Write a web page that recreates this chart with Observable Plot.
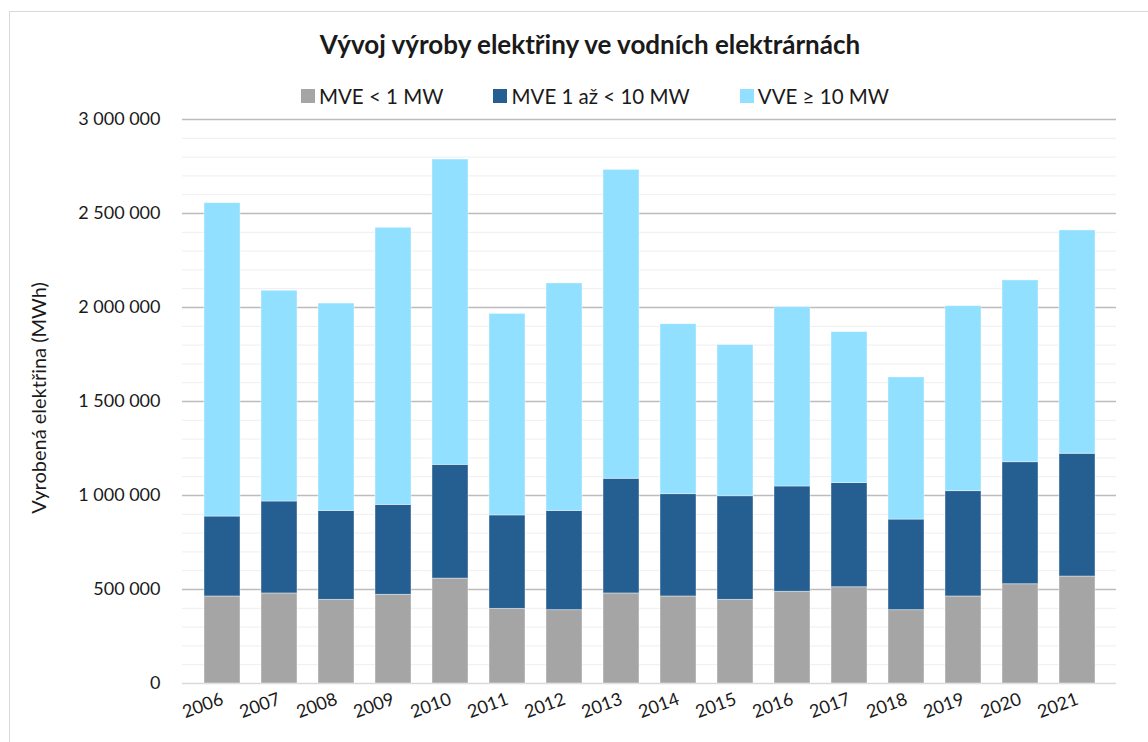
<!DOCTYPE html>
<html>
<head>
<meta charset="utf-8">
<script src="https://cdn.jsdelivr.net/npm/d3@7"></script>
<script src="https://cdn.jsdelivr.net/npm/@observablehq/plot@0.6"></script>
<style>
  html, body { margin: 0; padding: 0; background: #fff; }
  #wrap { position: relative; width: 1148px; height: 742px; overflow: hidden; font-family: Lato, "Open Sans", sans-serif; color: #1a1a1a; }
  #frame { position: absolute; left: 9px; top: 11px; width: 1140px; height: 740px; border: 1px solid #d9d9d9; box-sizing: border-box; }
  #title { position: absolute; left: 0; top: 28px; width: 1180px; text-align: center; font-weight: bold; font-size: 26px; }
  #legend { position: absolute; left: 0; top: 84px; width: 1190px; display: flex; justify-content: center; gap: 50px; font-size: 20.5px; }
  #legend span.item { display: inline-flex; align-items: center; }
  #legend span.sw { display: inline-block; width: 14px; height: 14px; margin-right: 4px; }
  #ylabel { position: absolute; left: 38px; top: 398px; transform: translate(-50%, -50%) rotate(-90deg); white-space: nowrap; font-size: 20px; }
  #chart { position: absolute; left: 0; top: 105px; }
</style>
</head>
<body>
<div id="wrap">
  <div id="frame"></div>
  <div id="title">Vývoj výroby elektřiny ve vodních elektrárnách</div>
  <div id="legend"></div>
  <div id="ylabel">Vyrobená elektřina (MWh)</div>
  <div id="chart"></div>
</div>
<script>
const years = ["2006","2007","2008","2009","2010","2011","2012","2013","2014","2015","2016","2017","2018","2019","2020","2021"];
const seriesNames = ["MVE < 1 MW", "MVE 1 až < 10 MW", "VVE ≥ 10 MW"];
const seriesColors = ["#a5a5a5", "#255e91", "#91e0ff"];
const mveSmall = [463000,479000,445000,472000,558000,397000,390000,479000,463000,445000,488000,512000,390000,463000,528000,569000];
const mveMid   = [425000,489000,473000,478000,605000,497000,528000,610000,544000,551000,560000,554000,482000,560000,649000,653000];
const vve      = [1667000,1121000,1103000,1474000,1624000,1072000,1210000,1643000,904000,804000,954000,803000,756000,984000,967000,1188000];
const yTicks = [0, 500000, 1000000, 1500000, 2000000, 2500000, 3000000];

const seriesValues = [mveSmall, mveMid, vve];
const rows = [];
seriesValues.forEach((vals, si) => {
  years.forEach((y, i) => rows.push({year: y, series: seriesNames[si], value: vals[i]}));
});

const legend = document.getElementById("legend");
seriesNames.forEach((n, i) => {
  const it = document.createElement("span");
  it.className = "item";
  const sw = document.createElement("span");
  sw.className = "sw";
  sw.style.background = seriesColors[i];
  it.appendChild(sw);
  it.appendChild(document.createTextNode(n));
  legend.appendChild(it);
});

const fmt = d => d3.format(",")(d).replace(/,/g, "\u00a0");
const minor = d3.range(0, 3000001, 100000).filter(v => v % 500000 !== 0);

const plot = Plot.plot({
  width: 1148,
  height: 637,
  marginTop: 14,
  marginBottom: 59,
  marginLeft: 182,
  marginRight: 32,
  style: { fontFamily: "Lato, 'Open Sans', sans-serif", fontSize: "18px", color: "#1a1a1a", background: "transparent" },
  x: { domain: years, padding: 0.37, label: null },
  y: { domain: [0, 3000000], label: null },
  color: { domain: seriesNames, range: seriesColors },
  marks: [
    Plot.ruleY(minor, { stroke: "#eeeeee", strokeWidth: 1 }),
    Plot.ruleY(yTicks.filter(v => v > 0), { stroke: "#bcbcbc", strokeWidth: 1.3 }),
    Plot.ruleY([0], { stroke: "#d9d9d9", strokeWidth: 1.3 }),
    Plot.barY(rows, Plot.stackY({ order: seriesNames }, { x: "year", y: "value", fill: "series", stroke: "#ffffff", strokeOpacity: 0.5, strokeWidth: 0.8 })),
    Plot.axisY(yTicks, { tickSize: 0, tickPadding: 22, tickFormat: fmt, fontSize: 18, label: null }),
    Plot.axisX({ tickSize: 0, tickPadding: 15, tickRotate: -20, fontSize: 18, label: null })
  ]
});
document.getElementById("chart").appendChild(plot);
</script>
</body>
</html>
